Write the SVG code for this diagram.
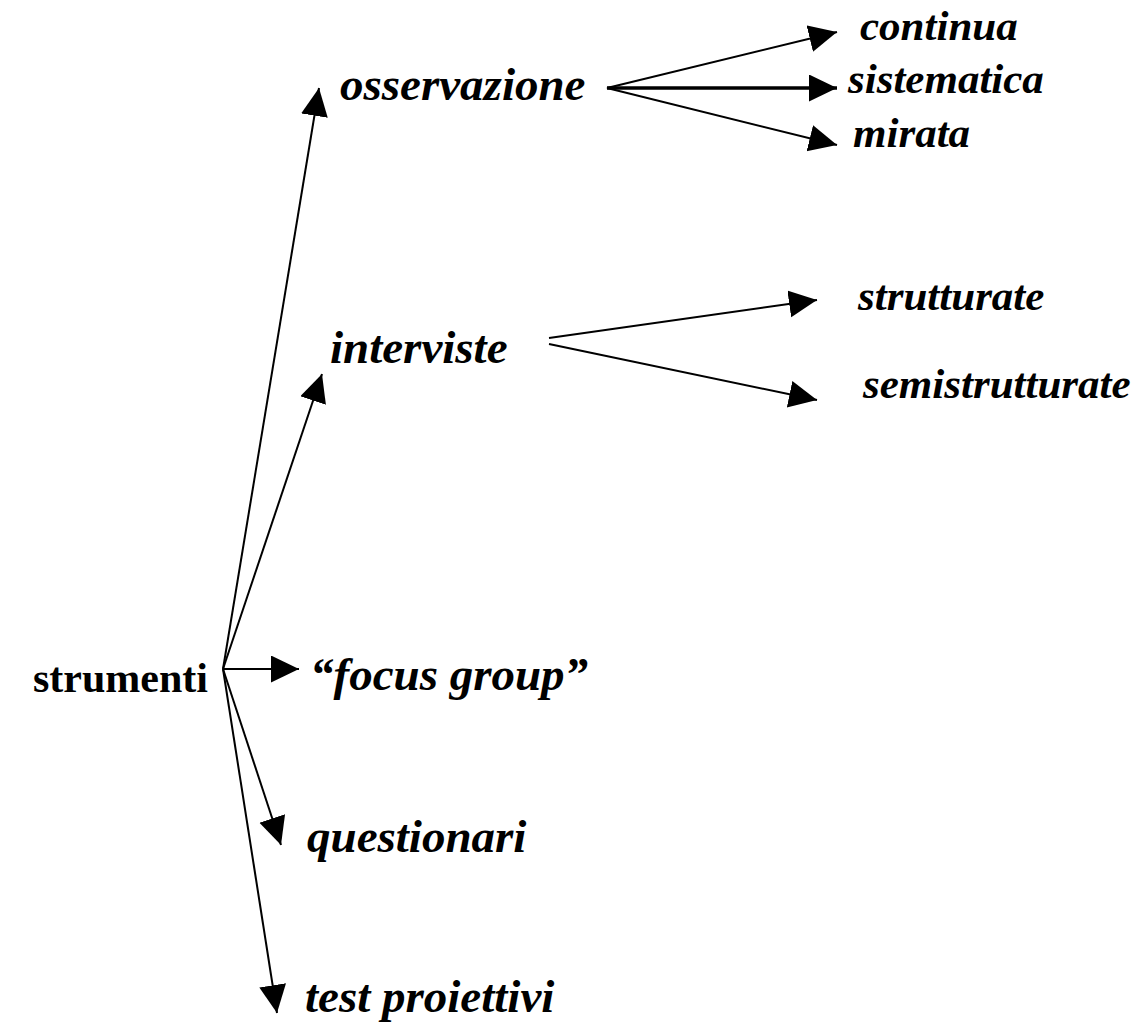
<svg xmlns="http://www.w3.org/2000/svg" width="1135" height="1026" viewBox="0 0 1135 1026">
<style>
.t{font-family:"Liberation Serif","Times New Roman",serif;font-weight:bold;font-style:italic;fill:#000}
.r{font-family:"Liberation Serif","Times New Roman",serif;font-weight:bold;fill:#000}
.c{stroke:#000;stroke-width:2;fill:none}
</style>
<defs>
<marker id="ah" markerUnits="userSpaceOnUse" markerWidth="30" markerHeight="30" refX="28" refY="13.5" orient="auto" viewBox="0 0 30 30">
<path d="M0,0 L28,13.5 L0,27 z" fill="#000"/>
</marker>
</defs>
<rect width="1135" height="1026" fill="#fff"/>
<g id="connectors">
<line class="c" x1="223" y1="669" x2="319" y2="88" marker-end="url(#ah)"/>
<line class="c" x1="223" y1="669" x2="322" y2="374" marker-end="url(#ah)"/>
<line class="c" x1="223" y1="669" x2="299" y2="669" marker-end="url(#ah)"/>
<line class="c" x1="223" y1="669" x2="281" y2="845" marker-end="url(#ah)"/>
<line class="c" x1="223" y1="669" x2="277" y2="1013" marker-end="url(#ah)"/>
<line class="c" x1="607" y1="88" x2="837" y2="32" marker-end="url(#ah)"/>
<line class="c" x1="607" y1="88" x2="837" y2="88" style="stroke-width:3.5" marker-end="url(#ah)"/>
<line class="c" x1="607" y1="88" x2="837" y2="145" marker-end="url(#ah)"/>
<line class="c" x1="549" y1="338" x2="817" y2="300" marker-end="url(#ah)"/>
<line class="c" x1="549" y1="344" x2="817" y2="400" marker-end="url(#ah)"/>
</g>
<g id="strumenti"><text class="r" x="208" y="692" font-size="42" text-anchor="end">strumenti</text></g>
<g id="osservazione"><text class="t" x="340" y="100" font-size="47">osservazione</text></g>
<g id="continua"><text class="t" x="860" y="40" font-size="43">continua</text></g>
<g id="sistematica"><text class="t" x="848" y="93" font-size="43">sistematica</text></g>
<g id="mirata"><text class="t" x="853" y="147" font-size="43">mirata</text></g>
<g id="interviste"><text class="t" x="330" y="363" font-size="47">interviste</text></g>
<g id="strutturate"><text class="t" x="858" y="310" font-size="43">strutturate</text></g>
<g id="semistrutturate"><text class="t" x="863" y="398" font-size="43">semistrutturate</text></g>
<g id="focus"><text class="t" x="310" y="690" font-size="47">“focus group”</text></g>
<g id="questionari"><text class="t" x="307" y="852" font-size="47">questionari</text></g>
<g id="test"><text class="t" x="305" y="1012" font-size="47">test proiettivi</text></g>
</svg>
